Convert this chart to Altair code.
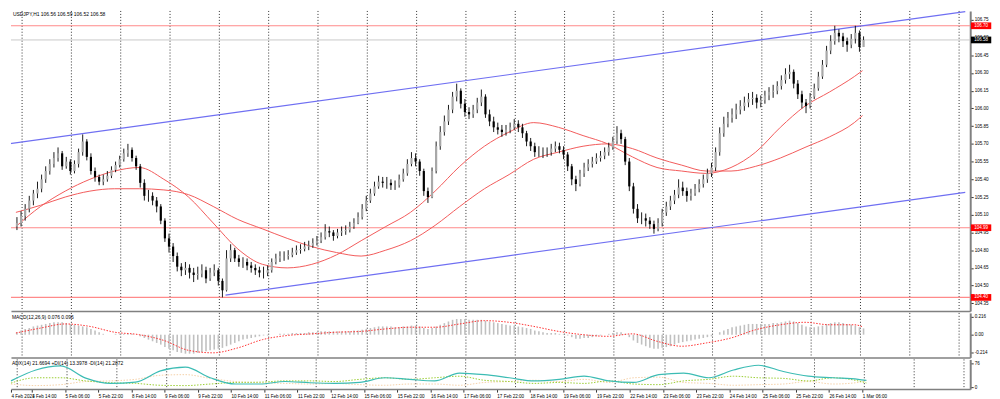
import json
import altair as alt
import pandas as pd

# ---------------- data ----------------
symbol_title = "USDJPY,H1 106.56 106.59 106.52 106.58"
macd_title = "MACD(12,26,9) 0.076 0.096"
adx_title = "ADX(14) 21.6694 +DI(14) 13.3978 -DI(14) 21.2872"

# 2-hour candles starting 4 Feb 04:00 (hour index 4)
first_open = 105.00
closes = [
    105.03, 105.09, 105.15, 105.22, 105.28, 105.32, 105.40, 105.47, 105.53, 105.58,
    105.62, 105.51, 105.55, 105.47, 105.53, 105.63, 105.72, 105.59, 105.47, 105.42,
    105.38, 105.40, 105.43, 105.48, 105.52, 105.57, 105.62, 105.65, 105.58, 105.51,
    105.37, 105.26, 105.26, 105.22, 105.17, 105.05, 104.90, 104.83, 104.75, 104.66,
    104.63, 104.65, 104.61, 104.59, 104.60, 104.63, 104.56, 104.61, 104.63, 104.54,
    104.46, 104.73, 104.80, 104.73, 104.70, 104.70, 104.67, 104.65, 104.63, 104.61,
    104.61, 104.63, 104.70, 104.73, 104.75, 104.75, 104.76, 104.78, 104.80, 104.81,
    104.83, 104.84, 104.86, 104.88, 104.91, 104.96, 104.95, 104.92, 104.95, 104.96,
    104.97, 105.00, 105.03, 105.08, 105.15, 105.22, 105.28, 105.34, 105.38, 105.37,
    105.37, 105.35, 105.35, 105.40, 105.45, 105.53, 105.58, 105.55, 105.47, 105.30,
    105.25, 105.47, 105.68, 105.80, 105.89, 105.99, 106.10, 106.15, 106.04, 105.97,
    105.95, 105.99, 106.05, 106.10, 105.95, 105.89, 105.84, 105.82, 105.80, 105.82,
    105.84, 105.87, 105.84, 105.79, 105.72, 105.68, 105.63, 105.63, 105.63, 105.63,
    105.66, 105.68, 105.65, 105.61, 105.51, 105.40, 105.36, 105.45, 105.50, 105.53,
    105.55, 105.58, 105.60, 105.63, 105.67, 105.72, 105.79, 105.74, 105.55, 105.34,
    105.15, 105.07, 105.07, 105.05, 105.02, 104.98, 105.03, 105.12, 105.17, 105.22,
    105.27, 105.33, 105.30, 105.26, 105.28, 105.32, 105.36, 105.40, 105.45, 105.50,
    105.63, 105.79, 105.87, 105.92, 105.95, 105.99, 106.02, 106.05, 106.08, 106.09,
    106.05, 106.07, 106.11, 106.14, 106.15, 106.19, 106.24, 106.29, 106.31, 106.21,
    106.12, 106.05, 106.02, 106.10, 106.17, 106.27, 106.37, 106.49, 106.57, 106.64,
    106.61, 106.57, 106.54, 106.59, 106.64, 106.52, 106.58,
]
highs = [
    105.08, 105.13, 105.19, 105.26, 105.31, 105.38, 105.44, 105.51, 105.57, 105.63,
    105.67, 105.64, 105.59, 105.57, 105.56, 105.66, 105.78, 105.74, 105.62, 105.50,
    105.44, 105.44, 105.47, 105.51, 105.55, 105.60, 105.66, 105.70, 105.67, 105.60,
    105.53, 105.40, 105.31, 105.29, 105.25, 105.19, 105.07, 104.94, 104.86, 104.78,
    104.69, 104.70, 104.68, 104.65, 104.66, 104.68, 104.66, 104.65, 104.68, 104.65,
    104.56, 104.80, 104.85, 104.82, 104.76, 104.74, 104.73, 104.70, 104.68, 104.66,
    104.66, 104.67, 104.73, 104.77, 104.79, 104.79, 104.80, 104.82, 104.84, 104.85,
    104.87, 104.88, 104.90, 104.92, 104.95, 105.02, 105.00, 104.97, 104.98, 105.00,
    105.01, 105.04, 105.07, 105.12, 105.19, 105.26, 105.32, 105.38, 105.43, 105.42,
    105.42, 105.40, 105.39, 105.44, 105.49, 105.57, 105.63, 105.62, 105.57, 105.49,
    105.33, 105.50, 105.72, 105.85, 105.94, 106.03, 106.14, 106.21, 106.17, 106.08,
    106.01, 106.03, 106.09, 106.16, 106.12, 105.99, 105.93, 105.88, 105.86, 105.86,
    105.88, 105.91, 105.90, 105.87, 105.81, 105.75, 105.71, 105.68, 105.67, 105.67,
    105.70, 105.72, 105.71, 105.68, 105.63, 105.53, 105.43, 105.48, 105.54, 105.57,
    105.59, 105.62, 105.64, 105.67, 105.71, 105.76, 105.85, 105.82, 105.76, 105.58,
    105.37, 105.19, 105.12, 105.11, 105.08, 105.05, 105.07, 105.15, 105.21, 105.26,
    105.31, 105.40, 105.38, 105.33, 105.32, 105.36, 105.40, 105.44, 105.49, 105.54,
    105.67, 105.84, 105.93, 105.97, 106.00, 106.04, 106.07, 106.10, 106.13, 106.14,
    106.12, 106.11, 106.15, 106.18, 106.20, 106.23, 106.28, 106.34, 106.37, 106.33,
    106.24, 106.15, 106.08, 106.13, 106.21, 106.31, 106.41, 106.53, 106.62, 106.70,
    106.67, 106.64, 106.60, 106.63, 106.70, 106.66, 106.61,
]
lows = [
    104.97, 105.00, 105.05, 105.12, 105.18, 105.24, 105.29, 105.37, 105.44, 105.50,
    105.55, 105.48, 105.49, 105.44, 105.45, 105.50, 105.60, 105.56, 105.44, 105.38,
    105.35, 105.35, 105.38, 105.41, 105.46, 105.50, 105.55, 105.59, 105.55, 105.48,
    105.33, 105.22, 105.21, 105.18, 105.12, 105.02, 104.87, 104.78, 104.70, 104.62,
    104.58, 104.59, 104.56, 104.53, 104.55, 104.57, 104.52, 104.54, 104.58, 104.50,
    104.40, 104.45, 104.70, 104.70, 104.66, 104.65, 104.63, 104.61, 104.59, 104.57,
    104.56, 104.58, 104.61, 104.68, 104.70, 104.71, 104.72, 104.74, 104.76, 104.77,
    104.79, 104.80, 104.82, 104.84, 104.86, 104.89, 104.91, 104.88, 104.90, 104.92,
    104.93, 104.95, 104.98, 105.02, 105.06, 105.13, 105.20, 105.26, 105.32, 105.33,
    105.32, 105.31, 105.31, 105.33, 105.38, 105.43, 105.51, 105.51, 105.43, 105.26,
    105.20, 105.24, 105.45, 105.65, 105.77, 105.86, 105.96, 106.06, 106.00, 105.93,
    105.91, 105.92, 105.96, 106.02, 105.92, 105.85, 105.80, 105.78, 105.76, 105.77,
    105.79, 105.82, 105.80, 105.75, 105.68, 105.64, 105.59, 105.59, 105.58, 105.59,
    105.60, 105.63, 105.62, 105.57, 105.47, 105.35, 105.30, 105.34, 105.42, 105.47,
    105.50, 105.53, 105.55, 105.57, 105.60, 105.65, 105.70, 105.70, 105.52, 105.30,
    105.11, 105.03, 105.02, 105.00, 104.98, 104.94, 104.96, 105.00, 105.09, 105.14,
    105.19, 105.24, 105.26, 105.21, 105.22, 105.26, 105.29, 105.33, 105.37, 105.42,
    105.47, 105.60, 105.76, 105.84, 105.88, 105.91, 105.95, 105.98, 106.01, 106.03,
    106.00, 106.01, 106.04, 106.07, 106.09, 106.12, 106.16, 106.21, 106.25, 106.17,
    106.08, 106.00, 105.96, 106.00, 106.08, 106.15, 106.25, 106.35, 106.46, 106.54,
    106.56, 106.52, 106.48, 106.51, 106.55, 106.48, 106.52,
]

# moving averages, sampled every 12 hours (hour index)
ma_hour = [4, 16, 28, 40, 52, 64, 76, 88, 100, 112, 124, 136, 148, 160, 172, 184, 196, 208,
           220, 232, 244, 256, 268, 280, 292, 304, 316, 328, 340, 352, 364, 376, 388, 400, 412, 416]
ma_fast = [105.00, 105.17, 105.30, 105.40, 105.47, 105.50, 105.40, 105.25, 105.03, 104.81,
           104.68, 104.65, 104.68, 104.76, 104.88, 105.00, 105.12, 105.30, 105.51, 105.68,
           105.80, 105.88, 105.84, 105.77, 105.70, 105.59, 105.50, 105.47, 105.45, 105.50,
           105.63, 105.84, 106.02, 106.14, 106.27, 106.32]
ma_slow = [105.12, 105.18, 105.25, 105.30, 105.32, 105.32, 105.31, 105.27, 105.17, 105.06,
           104.98, 104.90, 104.83, 104.78, 104.75, 104.80, 104.88, 105.01, 105.17, 105.32,
           105.44, 105.57, 105.63, 105.68, 105.70, 105.66, 105.58, 105.52, 105.47, 105.47,
           105.51, 105.58, 105.67, 105.76, 105.88, 105.94]

# MACD main (one value per 2-hour candle) and signal (every 12 hours)
macd_main = [
    0.03, 0.05, 0.07, 0.08, 0.10, 0.11, 0.12, 0.13, 0.14, 0.15,
    0.15, 0.15, 0.14, 0.13, 0.12, 0.11, 0.10, 0.09, 0.07, 0.05,
    0.03, 0.01, 0.00, 0.00, 0.01, 0.01, 0.01, 0.01, 0.01, 0.00,
    -0.02, -0.04, -0.06, -0.08, -0.10, -0.12, -0.15, -0.17, -0.19, -0.21,
    -0.22, -0.23, -0.23, -0.23, -0.22, -0.21, -0.20, -0.19, -0.18, -0.17,
    -0.16, -0.14, -0.12, -0.10, -0.08, -0.06, -0.05, -0.04, -0.03, -0.02,
    -0.01, -0.01, 0.00, 0.00, 0.01, 0.01, 0.01, 0.02, 0.02, 0.02,
    0.02, 0.03, 0.03, 0.03, 0.04, 0.04, 0.04, 0.04, 0.04, 0.04,
    0.04, 0.04, 0.05, 0.05, 0.06, 0.07, 0.08, 0.09, 0.10, 0.10,
    0.10, 0.10, 0.09, 0.09, 0.10, 0.10, 0.11, 0.11, 0.10, 0.08,
    0.07, 0.08, 0.10, 0.12, 0.14, 0.16, 0.18, 0.19, 0.19, 0.19,
    0.18, 0.18, 0.18, 0.18, 0.17, 0.16, 0.15, 0.14, 0.13, 0.12,
    0.11, 0.11, 0.10, 0.09, 0.08, 0.07, 0.05, 0.04, 0.03, 0.02,
    0.02, 0.02, 0.01, 0.01, -0.01, -0.03, -0.05, -0.05, -0.04, -0.04,
    -0.03, -0.02, -0.01, 0.00, 0.01, 0.02, 0.03, 0.03, 0.01, -0.03,
    -0.07, -0.10, -0.12, -0.14, -0.16, -0.17, -0.17, -0.16, -0.15, -0.14,
    -0.12, -0.10, -0.09, -0.08, -0.07, -0.06, -0.05, -0.04, -0.03, -0.02,
    0.00, 0.03, 0.05, 0.07, 0.09, 0.10, 0.11, 0.12, 0.13, 0.13,
    0.13, 0.13, 0.13, 0.13, 0.14, 0.14, 0.15, 0.16, 0.17, 0.16,
    0.14, 0.12, 0.10, 0.09, 0.09, 0.10, 0.11, 0.13, 0.14, 0.15,
    0.15, 0.14, 0.13, 0.12, 0.11, 0.09, 0.076,
]
macd_signal = [0.02, 0.08, 0.13, 0.10, 0.03, 0.00, -0.07, -0.19, -0.22, -0.16,
               -0.06, -0.01, 0.01, 0.03, 0.04, 0.07, 0.09, 0.09, 0.13, 0.17,
               0.15, 0.10, 0.04, 0.00, -0.02, 0.01, -0.08, -0.14, -0.10, -0.04,
               0.06, 0.12, 0.15, 0.12, 0.12, 0.096]

# ADX(14), +DI, -DI sampled every 12 hours
adx_main = [20, 55, 68, 29, 12, 16, 52, 64, 30, 10, 10, 18, 14, 12, 15, 30, 25, 20,
            45, 40, 30, 20, 25, 35, 20, 15, 40, 45, 30, 55, 70, 50, 35, 30, 25, 21.67]
adx_plus = [13, 30, 30, 20, 14, 12, 6, 5, 10, 15, 16, 20, 20, 18, 25, 30, 25, 30,
            35, 22, 18, 12, 15, 12, 20, 10, 8, 20, 25, 35, 30, 28, 20, 30, 20, 13.4]
adx_minus = [10, 5, 8, 18, 20, 25, 38, 40, 28, 18, 14, 12, 10, 12, 8, 6, 10, 10,
             6, 15, 18, 22, 18, 25, 15, 30, 32, 15, 12, 6, 8, 10, 18, 10, 15, 21.29]

# horizontal levels and current price
level_prices = [106.70, 104.99, 104.40]
level_texts = ["106.70", "104.99", "104.40"]
current_price = 106.58
current_text = "106.58"

# channel trend lines (hour index, price)
upper_hour = [0, 466]
upper_price = [105.70, 106.82]
lower_hour = [106, 466]
lower_price = [104.42, 105.29]

grid_hour = [7, 31, 55, 79, 103, 127, 151, 175, 199, 223, 247, 271, 295, 319, 343, 367, 391, 415, 439, 463]

xlabel_hour = [4, 14, 30, 46, 62, 78, 94, 110, 126, 142, 158, 174, 190, 206, 222, 238, 254,
               270, 286, 302, 318, 334, 350, 366, 382, 398, 414]
xlabel_text = ["4 Feb 2021", "4 Feb 14:00", "5 Feb 06:00", "5 Feb 22:00", "8 Feb 14:00",
               "9 Feb 06:00", "9 Feb 22:00", "10 Feb 14:00", "11 Feb 06:00", "11 Feb 22:00",
               "12 Feb 14:00", "15 Feb 06:00", "15 Feb 22:00", "16 Feb 14:00", "17 Feb 06:00",
               "17 Feb 22:00", "18 Feb 14:00", "19 Feb 06:00", "19 Feb 22:00", "22 Feb 14:00",
               "23 Feb 06:00", "23 Feb 22:00", "24 Feb 14:00", "25 Feb 06:00", "25 Feb 22:00",
               "26 Feb 14:00", "1 Mar 06:00"]

price_ticks = [104.35, 104.50, 104.65, 104.80, 104.95, 105.10, 105.25, 105.40, 105.55,
               105.70, 105.85, 106.00, 106.15, 106.30, 106.45, 106.60, 106.75]
macd_ticks = [0.216, 0.0, -0.214]
adx_ticks = [76, 0]

# ---------------- layout ----------------
FONT = "Liberation Sans"
W = 969
H_MAIN, H_MACD, H_ADX = 303, 45, 30
X_DOMAIN = [4.0, 466.0]
Y_MAIN = [104.2856, 106.8254]
Y_MACD = [-0.276, 0.264]
Y_ADX = [-6.3, 88.7]
GREY = "#808080"

n = len(closes)
opens = [first_open] + closes[:-1]
candles = pd.DataFrame({
    "hour": [4.5 + 2 * k for k in range(n)],
    "open": opens, "high": highs, "low": lows, "close": closes,
})
candles["up"] = candles["close"] >= candles["open"]
macd_df = pd.DataFrame({"hour": candles["hour"], "macd": macd_main})
ma_df = pd.DataFrame({"hour": ma_hour, "fast": ma_fast, "slow": ma_slow,
                      "signal": macd_signal, "adx": adx_main, "pdi": adx_plus, "mdi": adx_minus})
grid_df = pd.DataFrame({"hour": grid_hour})

xscale = alt.Scale(domain=X_DOMAIN, nice=False, zero=False)

border_axis = alt.Axis(orient="bottom", labels=False, ticks=False, domain=True, grid=False,
                       title=None, domainColor=GREY, domainWidth=1.5)
label_expr = ("[" + ",".join(json.dumps(t) for t in xlabel_text) + "][indexof("
              + json.dumps(xlabel_hour) + ", datum.value)]")
bottom_axis = alt.Axis(orient="bottom", values=xlabel_hour, labelExpr=label_expr, title=None,
                       grid=False, domainColor=GREY, domainWidth=1.5, tickColor="#000",
                       tickSize=3, tickWidth=0.8, labelFont=FONT, labelFontSize=4.6,
                       labelColor="#000", labelAlign="left", labelPadding=1, labelOverlap=False,
                       labelFlush=False, labelBaseline="top")


def xenc(field="hour", axis=border_axis):
    return alt.X(f"{field}:Q", scale=xscale, axis=axis)


def right_axis(values, fmt=None, expr=None):
    kw = dict(orient="right", values=values, title=None, grid=False, labelFont=FONT,
              labelFontSize=4.6, labelColor="#000", labelPadding=1, tickSize=3,
              tickColor="#000", tickWidth=0.8, domainColor=GREY, domainWidth=2,
              labelAlign="left", labelBaseline="middle", labelOverlap=False, labelFlush=False)
    if fmt:
        kw["format"] = fmt
    if expr:
        kw["labelExpr"] = expr
    return alt.Axis(**kw)


ymain_axis = right_axis(price_ticks, fmt=".2f")
ymain = alt.Scale(domain=Y_MAIN, nice=False, zero=False)


def ym(field):
    return alt.Y(f"{field}:Q", scale=ymain, axis=ymain_axis)


grid_main = alt.Chart(grid_df).mark_rule(color="#303030", strokeWidth=1, strokeDash=[1, 2]).encode(
    x=xenc())

levels_df = pd.DataFrame({"price": level_prices, "label": level_texts})
cur_df = pd.DataFrame({"price": [current_price], "label": [current_text]})

cur_line = alt.Chart(cur_df).mark_rule(color="#c8c8c8", strokeWidth=1).encode(y=ym("price"))
level_lines = alt.Chart(levels_df).mark_rule(color="#ff8a8a", strokeWidth=1.2).encode(y=ym("price"))

upper_df = pd.DataFrame({"hour": upper_hour, "price": upper_price})
lower_df = pd.DataFrame({"hour": lower_hour, "price": lower_price})
upper_line = alt.Chart(upper_df).mark_line(color="#6f6ff2", strokeWidth=1.2, clip=True).encode(
    x=xenc(), y=ym("price"))
lower_line = alt.Chart(lower_df).mark_line(color="#6f6ff2", strokeWidth=1.2, clip=True).encode(
    x=xenc(), y=ym("price"))

ma_fast_line = alt.Chart(ma_df).mark_line(color="#f25a5a", strokeWidth=1, interpolate="monotone").encode(
    x=xenc(), y=ym("fast"))
ma_slow_line = alt.Chart(ma_df).mark_line(color="#f25a5a", strokeWidth=1, interpolate="monotone").encode(
    x=xenc(), y=ym("slow"))

wicks = alt.Chart(candles).mark_rule(color="#000", strokeWidth=0.9).encode(
    x=xenc(), y=ym("low"), y2="high:Q")
bodies = alt.Chart(candles).mark_bar(size=2.2).encode(
    x=xenc(), y=ym("open"), y2="close:Q",
    color=alt.Color("up:N", scale=alt.Scale(domain=[True, False], range=["#a8a8a8", "#000000"]),
                    legend=None))

BOX = "M-1,-0.33L1,-0.33L1,0.33L-1,0.33Z"
level_box = alt.Chart(levels_df).mark_point(shape=BOX, size=420, filled=True, opacity=1,
                                            color="#ff0000", strokeWidth=0).encode(
    x=alt.value(W + 11), y=ym("price"))
level_txt = alt.Chart(levels_df).mark_text(font=FONT, fontSize=4.6, color="white", align="center",
                                           baseline="middle").encode(
    x=alt.value(W + 11), y=ym("price"), text="label:N")
cur_box = alt.Chart(cur_df).mark_point(shape=BOX, size=420, filled=True, opacity=1,
                                       color="#000000", strokeWidth=0).encode(
    x=alt.value(W + 11), y=ym("price"))
cur_txt = alt.Chart(cur_df).mark_text(font=FONT, fontSize=4.6, color="white", align="center",
                                      baseline="middle").encode(
    x=alt.value(W + 11), y=ym("price"), text="label:N")

title_main = alt.Chart(pd.DataFrame({"t": [symbol_title]})).mark_text(
    font=FONT, fontSize=5, color="#000", align="left", baseline="top").encode(
    x=alt.value(2), y=alt.value(1), text="t:N")

main = alt.layer(grid_main, cur_line, level_lines, upper_line, lower_line, ma_slow_line,
                 ma_fast_line, wicks, bodies, level_box, level_txt, cur_box, cur_txt,
                 title_main).properties(width=W, height=H_MAIN)

# MACD panel
macd_axis = right_axis(macd_ticks, expr="datum.value == 0 ? '0.00' : '' + datum.value")
ymacd = alt.Scale(domain=Y_MACD, nice=False, zero=False)
grid_macd = alt.Chart(grid_df).mark_rule(color="#303030", strokeWidth=1, strokeDash=[1, 2]).encode(
    x=xenc())
macd_bars = alt.Chart(macd_df).mark_bar(size=1.6, color="#c0c0c0").encode(
    x=xenc(), y=alt.Y("macd:Q", scale=ymacd, axis=macd_axis), y2=alt.datum(0))
macd_sig = alt.Chart(ma_df).mark_line(color="#ff3030", strokeWidth=1, strokeDash=[1.5, 1.5],
                                      interpolate="monotone").encode(
    x=xenc(), y=alt.Y("signal:Q", scale=ymacd, axis=macd_axis))
macd_t = alt.Chart(pd.DataFrame({"t": [macd_title]})).mark_text(
    font=FONT, fontSize=5, color="#000", align="left", baseline="top").encode(
    x=alt.value(1), y=alt.value(2), text="t:N")
macd = alt.layer(grid_macd, macd_bars, macd_sig, macd_t).properties(width=W, height=H_MACD)

# ADX panel
adx_axis = right_axis(adx_ticks, fmt="d")
yadx = alt.Scale(domain=Y_ADX, nice=False, zero=False)
grid_adx = alt.Chart(grid_df).mark_rule(color="#303030", strokeWidth=1, strokeDash=[1, 2]).encode(
    x=xenc(axis=bottom_axis))
adx_line = alt.Chart(ma_df).mark_line(color="#3cbcb4", strokeWidth=1.2, interpolate="monotone").encode(
    x=xenc(axis=bottom_axis), y=alt.Y("adx:Q", scale=yadx, axis=adx_axis))
pdi_line = alt.Chart(ma_df).mark_line(color="#9acd32", strokeWidth=1, strokeDash=[1.5, 1.5],
                                      interpolate="monotone").encode(
    x=xenc(axis=bottom_axis), y=alt.Y("pdi:Q", scale=yadx, axis=adx_axis))
mdi_line = alt.Chart(ma_df).mark_line(color="#f5d0a8", strokeWidth=1, strokeDash=[1.5, 1.5],
                                      interpolate="monotone").encode(
    x=xenc(axis=bottom_axis), y=alt.Y("mdi:Q", scale=yadx, axis=adx_axis))
adx_t = alt.Chart(pd.DataFrame({"t": [adx_title]})).mark_text(
    font=FONT, fontSize=5, color="#000", align="left", baseline="top").encode(
    x=alt.value(1), y=alt.value(2), text="t:N")
adx = alt.layer(grid_adx, mdi_line, pdi_line, adx_line, adx_t).properties(width=W, height=H_ADX)

chart = alt.vconcat(main, macd, adx, spacing=0).properties(
    padding=0, background="white"
).configure_view(stroke=None).configure_concat(spacing=0)

chart.save("out.html", embed_options={"renderer": "svg", "actions": False})
